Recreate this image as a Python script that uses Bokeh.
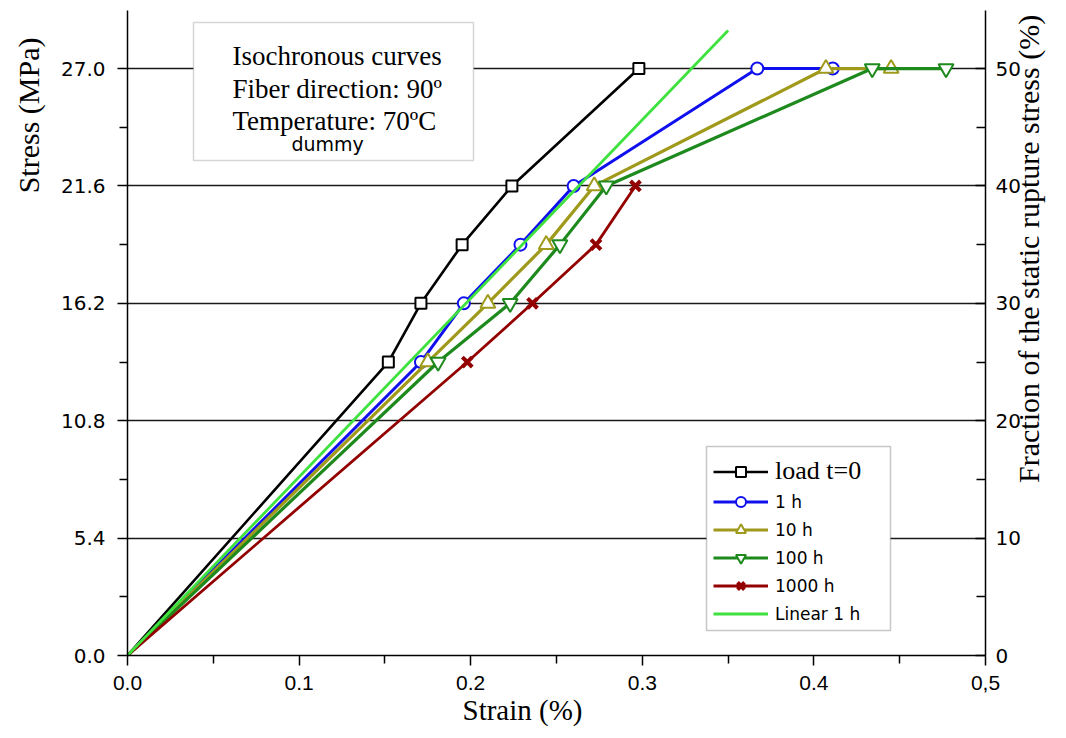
import math
from bokeh.plotting import figure
from bokeh.models import (Range1d, LinearAxis, FixedTicker, Legend, LegendItem,
                          BoxAnnotation, Label, PrintfTickFormatter, Title)
from bokeh.embed import file_html
from bokeh.resources import INLINE

# ---------------- data ----------------
load_x = [0.0, 0.152, 0.171, 0.195, 0.224, 0.298]
load_y = [0.0, 13.5, 16.2, 18.9, 21.6, 27.0]

h1_x = [0.0, 0.171, 0.196, 0.229, 0.260, 0.367, 0.411]
h1_y = [0.0, 13.5, 16.2, 18.9, 21.6, 27.0, 27.0]

h10_x = [0.0, 0.175, 0.210, 0.244, 0.272, 0.407, 0.445]
h10_y = [0.0, 13.5, 16.2, 18.9, 21.6, 27.0, 27.0]

h100_x = [0.0, 0.181, 0.223, 0.252, 0.279, 0.434, 0.477]
h100_y = [0.0, 13.5, 16.2, 18.9, 21.6, 27.0, 27.0]

h1000_x = [0.0, 0.198, 0.236, 0.273, 0.296]
h1000_y = [0.0, 13.5, 16.2, 18.9, 21.6]

lin_x = [0.0, 0.35]
lin_y = [0.0, 28.75]

x_ticks = [0.0, 0.1, 0.2, 0.3, 0.4, 0.5]
x_minor = [0.05, 0.15, 0.25, 0.35, 0.45]
y_ticks = [0.0, 5.4, 10.8, 16.2, 21.6, 27.0]
y_minor = [2.7, 8.1, 13.5, 18.9, 24.3]
pct_ticks = [0, 10, 20, 30, 40, 50]
pct_minor = [5, 15, 25, 35, 45]

Y_MAX = 29.67

# ---------------- figure ----------------
p = figure(width=1066, height=738, output_backend="svg", toolbar_location=None,
           title=None, x_range=Range1d(0, 0.5), y_range=Range1d(0, Y_MAX),
           min_border_left=127, min_border_right=81, min_border_top=10,
           min_border_bottom=83)
p.outline_line_color = None
p.background_fill_color = "white"
p.border_fill_color = "white"
p.extra_y_ranges = {"pct": Range1d(0, Y_MAX / 27.0 * 50.0)}

# grid
p.xgrid.visible = False
p.ygrid.ticker = FixedTicker(ticks=y_ticks)
p.ygrid.grid_line_color = "black"
p.ygrid.grid_line_width = 1.3
p.ygrid.grid_line_alpha = 0.9

# axes
xa = p.xaxis[0]
xa.ticker = FixedTicker(ticks=x_ticks, minor_ticks=x_minor)
xa.formatter = PrintfTickFormatter(format="%.1f")
xa.major_label_overrides = {0.5: "0,5"}
ya = p.yaxis[0]
ya.ticker = FixedTicker(ticks=y_ticks, minor_ticks=y_minor)
ya.formatter = PrintfTickFormatter(format="%.1f")

ra = LinearAxis(y_range_name="pct",
                ticker=FixedTicker(ticks=pct_ticks, minor_ticks=pct_minor))
p.add_layout(ra, "right")

for ax in (xa, ya, ra):
    ax.axis_line_color = "black"
    ax.axis_line_width = 1.5
    ax.major_tick_line_color = "black"
    ax.minor_tick_line_color = "black"
    ax.major_tick_line_width = 1.5
    ax.minor_tick_line_width = 1.5
    ax.major_label_text_color = "black"

xa.major_tick_out = 10
xa.major_tick_in = 0
xa.minor_tick_out = 8
xa.minor_tick_in = 0
xa.major_label_standoff = 10
xa.major_label_text_font = "Liberation Sans"
xa.major_label_text_font_size = "21px"

ya.major_tick_out = 10
ya.major_tick_in = 0
ya.minor_tick_out = 8
ya.minor_tick_in = 0
ya.major_label_standoff = 12
ya.major_label_text_font = "DejaVu Sans"
ya.major_label_text_font_size = "20px"

ra.major_tick_out = 0
ra.major_tick_in = 10
ra.minor_tick_out = 0
ra.minor_tick_in = 9
ra.major_label_standoff = 10
ra.major_label_text_font = "DejaVu Sans"
ra.major_label_text_font_size = "20px"

# right axis title (reads bottom to top, starting from the lower end of the
# axis; the leading no-break spaces only lift it to where the original sits)
ra.axis_label = "\u00a0" * 23 + "Fraction of the static rupture stress (%)"
ra.axis_label_text_font = "Liberation Serif"
ra.axis_label_text_font_size = "30px"
ra.axis_label_text_font_style = "normal"
ra.axis_label_text_color = "black"
ra.axis_label_standoff = 5
ra.axis_label_orientation = math.pi / 2
ra.axis_label_align = "start"

# left axis title as a side title near the top
p.add_layout(Title(text="Stress (MPa)", align="right", offset=27,
                   vertical_align="top", standoff=22,
                   text_font="Liberation Serif", text_font_size="30px",
                   text_font_style="normal", text_color="black"), "left")
# bottom axis title
p.add_layout(Title(text="Strain (%)", align="left", offset=335,
                   vertical_align="top", standoff=2,
                   text_font="Liberation Serif", text_font_size="29px",
                   text_font_style="normal", text_color="black"), "below")

# ---------------- series ----------------
BLACK = "#000000"
BLUE = "#1010ee"
OLIVE = "#a09a1c"
GREEN = "#1e8a1e"
RED = "#930000"
LGREEN = "#3ee23e"

r_load_l = p.line(load_x, load_y, line_color=BLACK, line_width=2.6)
r_load_m = p.scatter(load_x[1:], load_y[1:], marker="square", size=11,
                     line_color=BLACK, line_width=2, fill_color="white")

r_h1_l = p.line(h1_x, h1_y, line_color=BLUE, line_width=3)
r_h1_m = p.scatter(h1_x[1:], h1_y[1:], marker="circle", size=12,
                   line_color=BLUE, line_width=2, fill_color="white")

r_h10_l = p.line(h10_x, h10_y, line_color=OLIVE, line_width=3.2)
r_h10_m = p.scatter(h10_x[1:], h10_y[1:], marker="triangle", size=15,
                    line_color=OLIVE, line_width=2, fill_color="white")

r_h100_l = p.line(h100_x, h100_y, line_color=GREEN, line_width=3.2)
r_h100_m = p.scatter(h100_x[1:], h100_y[1:], marker="inverted_triangle", size=15,
                     line_color=GREEN, line_width=2, fill_color="white")

r_h1000_l = p.line(h1000_x, h1000_y, line_color=RED, line_width=2.8)
r_h1000_m = p.scatter(h1000_x[1:], h1000_y[1:], marker="x", size=14,
                      line_color=RED, line_width=4)

r_lin = p.line(lin_x, lin_y, line_color=LGREEN, line_width=2.8)

# ---------------- annotation box ----------------
info_box = BoxAnnotation(left=66, right=346, bottom=495, top=633,
                         left_units="screen", right_units="screen",
                         bottom_units="screen", top_units="screen",
                         fill_color="white", fill_alpha=1.0,
                         line_color="#777777", line_width=1.5)
p.add_layout(info_box)

info_lines = ["Isochronous curves", "Fiber direction: 90º", "Temperature: 70ºC"]
info_y = [600, 567, 535]
for t, yy in zip(info_lines, info_y):
    p.add_layout(Label(x=105, y=yy, x_units="screen", y_units="screen", text=t,
                       text_font="Liberation Serif", text_font_size="27px",
                       text_color="black", text_baseline="alphabetic"))
p.add_layout(Label(x=164, y=512, x_units="screen", y_units="screen", text="dummy",
                   text_font="DejaVu Sans", text_font_size="19px",
                   text_color="black", text_baseline="alphabetic"))

# ---------------- legend ----------------
leg_box = BoxAnnotation(left=579, right=763, bottom=25, top=209,
                        left_units="screen", right_units="screen",
                        bottom_units="screen", top_units="screen",
                        fill_color="white", fill_alpha=1.0,
                        line_color="#444444", line_width=1.5)
p.add_layout(leg_box)

common = dict(glyph_width=55, glyph_height=25, label_height=25, padding=1,
              spacing=3, label_standoff=7, border_line_alpha=0,
              background_fill_alpha=0, label_text_color="black")

leg_a = Legend(items=[LegendItem(label="load t=0", renderers=[r_load_l, r_load_m])],
               location=(585, 168), label_text_font="Liberation Serif",
               label_text_font_size="26px", **common)
leg_b = Legend(items=[
    LegendItem(label="1 h", renderers=[r_h1_l, r_h1_m]),
    LegendItem(label="10 h", renderers=[r_h10_l, r_h10_m]),
    LegendItem(label="100 h", renderers=[r_h100_l, r_h100_m]),
    LegendItem(label="1000 h", renderers=[r_h1000_l, r_h1000_m]),
    LegendItem(label="Linear 1 h", renderers=[r_lin]),
], location=(585, 28), label_text_font="DejaVu Sans",
    label_text_font_size="17px", **common)
p.add_layout(leg_a, "center")
p.add_layout(leg_b, "center")

open("out.html", "w").write(file_html(p, INLINE))
